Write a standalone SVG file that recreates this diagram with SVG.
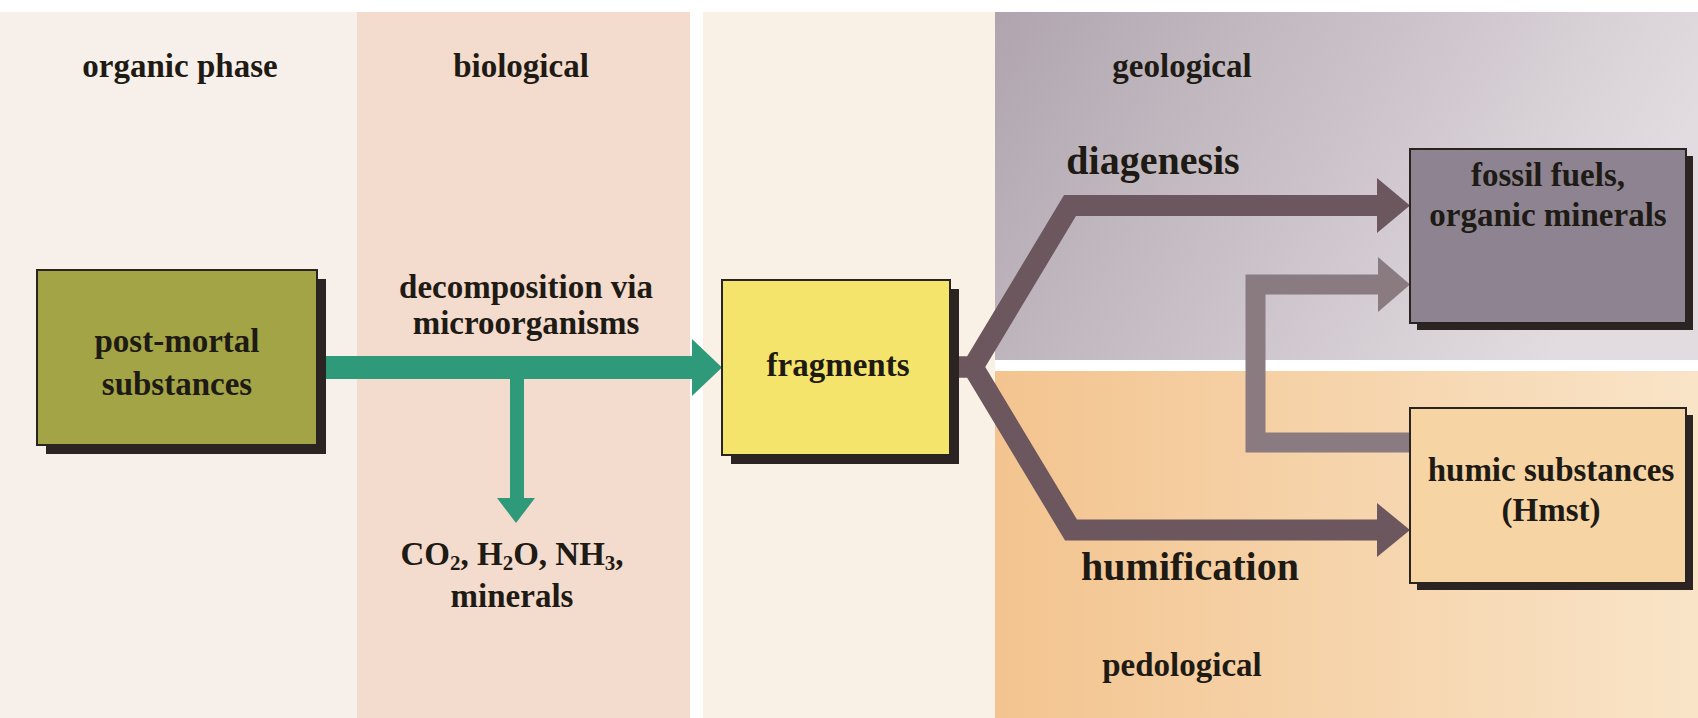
<svg xmlns="http://www.w3.org/2000/svg" width="1698" height="718" viewBox="0 0 1698 718">
<defs>
<linearGradient id="gGeo" x1="0" y1="0" x2="1" y2="0.3">
<stop offset="0" stop-color="#b0a5af"/><stop offset="1" stop-color="#e2dce0"/>
</linearGradient>
<linearGradient id="gPed" x1="0" y1="0" x2="1" y2="0">
<stop offset="0" stop-color="#f3c48f"/><stop offset="1" stop-color="#f9e4c8"/>
</linearGradient>
<style>
text{font-family:"Liberation Serif","Times New Roman",serif;font-weight:bold;fill:#1e1a14;text-anchor:middle;font-size:33px}
.big{font-size:40px}
.sub{font-size:21px}
.box{stroke:#2a2420;stroke-width:2}
.shadow{fill:#2b2422}
.dk{fill:none;stroke:#6b575d;stroke-width:21;stroke-linejoin:miter}
.lt{fill:none;stroke:#8a7b81;stroke-width:20;stroke-linejoin:miter}
</style>
</defs>
<rect width="1698" height="718" fill="#ffffff"/>
<g id="panels">
<rect x="0" y="12" width="357" height="706" fill="#f7efe9"/>
<rect x="357" y="12" width="333" height="706" fill="#f3dbcd"/>
<rect x="703" y="12" width="292" height="706" fill="#f9f1e6"/>
<rect x="995" y="12" width="703" height="348" fill="url(#gGeo)"/>
<rect x="995" y="371" width="703" height="347" fill="url(#gPed)"/>
</g>
<g id="headers">
<text x="180" y="77">organic phase</text>
<text x="521" y="77">biological</text>
<text x="1182" y="77" font-size="34">geological</text>
<text x="1182" y="676">pedological</text>
</g>
<g id="connectors">
<path d="M317 356 H692 V339 L722 367.5 L692 396 V379 H317 Z" fill="#2f9a7a"/>
<path d="M510 370 H524 V498 H535 L516 523 L497 498 H510 Z" fill="#2f9a7a"/>
<polyline class="dk" points="940,367 973,367 1070,205.5 1380,205.5"/>
<polyline class="dk" points="940,367 973,367 1071,530 1380,530"/>
<polygon points="1377,178 1410,205.5 1377,233" fill="#6b575d"/>
<polygon points="1377,503 1410,530 1377,557" fill="#6b575d"/>
<polyline class="lt" points="1412,442.5 1255.5,442.5 1255.5,284.5 1382,284.5"/>
<polygon points="1378,257 1410,284.5 1378,312" fill="#8a7b81"/>
<text x="526" y="298" font-size="34">decomposition via</text>
<text x="526" y="334" font-size="34">microorganisms</text>
<text x="512" y="565">CO<tspan class="sub" dy="5">2</tspan><tspan dy="-5">, H</tspan><tspan class="sub" dy="5">2</tspan><tspan dy="-5">O, NH</tspan><tspan class="sub" dy="5">3</tspan><tspan dy="-5">,</tspan></text>
<text x="512" y="607">minerals</text>
<text class="big" x="1153" y="174">diagenesis</text>
<text class="big" x="1190" y="580" font-size="39">humification</text>
</g>
<g id="postmortal">
<rect class="shadow" x="46" y="279" width="280" height="175"/>
<rect class="box" x="37" y="270" width="280" height="175" fill="#a3a446"/>
<text x="177" y="352">post-mortal</text>
<text x="177" y="395">substances</text>
</g>
<g id="fragments">
<rect class="shadow" x="731" y="289" width="228" height="175"/>
<rect class="box" x="722" y="280" width="228" height="175" fill="#f5e46c"/>
<text x="838" y="376">fragments</text>
</g>
<g id="fossil">
<rect class="shadow" x="1417" y="156" width="276" height="174"/>
<rect class="box" x="1410" y="149" width="276" height="174" fill="#8d8391"/>
<text x="1548" y="186">fossil fuels,</text>
<text x="1548" y="226">organic minerals</text>
</g>
<g id="humic">
<rect class="shadow" x="1417" y="415" width="276" height="175"/>
<rect class="box" x="1410" y="408" width="276" height="175" fill="#f6d4a4"/>
<text x="1551" y="481">humic substances</text>
<text x="1551" y="521">(Hmst)</text>
</g>
</svg>
